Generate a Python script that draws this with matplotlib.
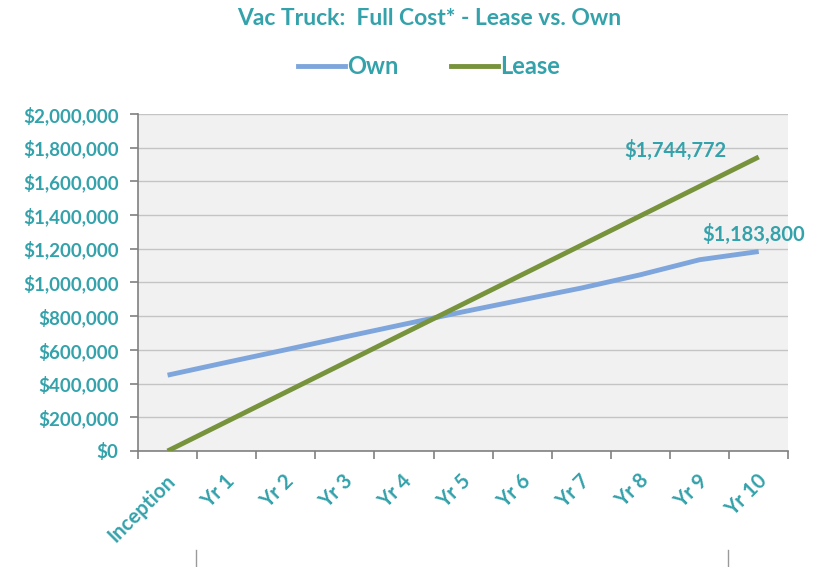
import matplotlib.pyplot as plt
import matplotlib.transforms as mtransforms
from matplotlib.lines import Line2D
from matplotlib.ticker import FuncFormatter, MultipleLocator

categories = ["Inception", "Yr 1", "Yr 2", "Yr 3", "Yr 4", "Yr 5",
              "Yr 6", "Yr 7", "Yr 8", "Yr 9", "Yr 10"]
own = [450000, 526000, 601000, 677000, 752000, 826000,
       897000, 967000, 1046000, 1135000, 1183800]
lease = [0, 174500, 349000, 523400, 698000, 872400,
         1046900, 1221300, 1395800, 1570300, 1744772]

TEAL = "#34a2ab"
OWN_C = "#7ea6dc"
LEASE_C = "#77933c"

plt.rcParams.update({"font.family": ["Lato", "DejaVu Sans"]})

fig = plt.figure(figsize=(8.25, 5.67), dpi=100)
ax = fig.add_axes([0.1673, 0.2046, 0.7882, 0.5944])
ax.set_facecolor("#f1f1f1")

x = list(range(len(categories)))
ax.plot(x, own, color=OWN_C, linewidth=3.5, solid_capstyle="butt", zorder=3)
ax.plot(x, lease, color=LEASE_C, linewidth=3.5, solid_capstyle="butt", zorder=3)

ax.set_xlim(-0.5, len(categories) - 0.5)
ax.set_ylim(0, 2000000)
ax.yaxis.set_major_locator(MultipleLocator(200000))
ax.yaxis.set_major_formatter(FuncFormatter(lambda v, p: f"${v:,.0f}"))
ax.grid(axis="y", color="#c4c4c4", linewidth=1)
ax.set_axisbelow(True)

ax.set_xticks(x)
ax.set_xticklabels(categories, rotation=45, ha="right", va="top",
                   rotation_mode="anchor")
ax.set_xticks([i - 0.5 for i in range(len(categories) + 1)], minor=True)
ax.tick_params(axis="x", which="major", length=0, pad=14, labelsize=14.8,
               labelcolor=TEAL)
ax.tick_params(axis="x", which="minor", length=6, color="#808080", width=1.2)
ax.tick_params(axis="y", length=6, color="#808080", width=1.2, labelsize=13.5,
               labelcolor=TEAL, pad=8)
shift = mtransforms.ScaledTranslation(-2 / 100, 0, fig.dpi_scale_trans)
for lab in ax.get_xticklabels():
    lab.set_fontweight("bold")
    lab.set_transform(lab.get_transform() + shift)
for lab in ax.get_yticklabels():
    lab.set_fontweight("bold")

for s in ["top", "right"]:
    ax.spines[s].set_visible(False)
for s in ["left", "bottom"]:
    ax.spines[s].set_color("#808080")
    ax.spines[s].set_linewidth(1.2)

# end labels
ax.annotate(f"${lease[-1]:,.0f}", (x[-1], lease[-1]), xytext=(-60, -3),
            textcoords="offset points", ha="center", va="bottom",
            color=TEAL, fontsize=14.5, fontweight="bold")
ax.annotate(f"${own[-1]:,.0f}", (x[-1], own[-1]), xytext=(-4, 5),
            textcoords="offset points", ha="center", va="bottom",
            color=TEAL, fontsize=14.5, fontweight="bold")

fig.text(0.52, 0.968, "Vac Truck:  Full Cost* - Lease vs. Own",
         ha="center", va="center", color=TEAL, fontsize=16.5, fontweight="bold")

handles = [Line2D([], [], color=OWN_C, linewidth=3.5),
           Line2D([], [], color=LEASE_C, linewidth=3.5)]
fig.legend(handles, ["Own", "Lease"], loc="center", bbox_to_anchor=(0.52, 0.882),
           ncol=2, frameon=False, handlelength=2.0, handletextpad=0.1,
           columnspacing=2.2, prop={"size": 17, "weight": "bold"},
           labelcolor=TEAL)

# footnote box edges (cut off at the bottom of the image)
fig.add_artist(Line2D([0.238, 0.238], [0.0, 0.03], color="#9a9a9a", linewidth=1))
fig.add_artist(Line2D([0.882, 0.882], [0.0, 0.03], color="#9a9a9a", linewidth=1))

fig.savefig("out.png", dpi=100)
